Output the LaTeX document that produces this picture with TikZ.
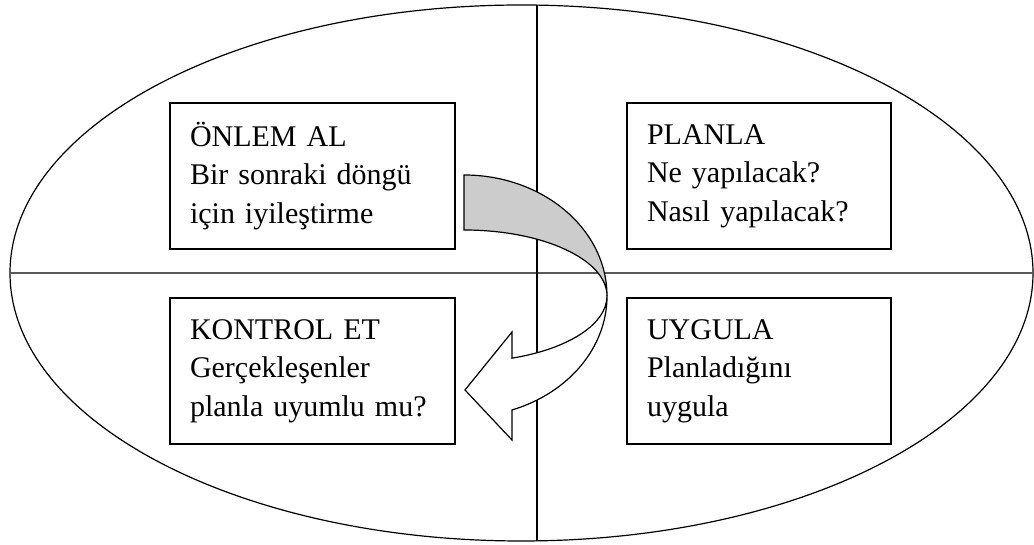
\documentclass[tikz,border=0pt]{standalone}
\usepackage{fontspec}
\setmainfont{Liberation Serif}

\begin{document}
\begin{tikzpicture}[x=1pt,y=1pt,
    kutu/.style={draw, line width=1.4pt, align=left, inner xsep=20pt, inner ysep=0pt,
      minimum height=146pt, font=\fontsize{30}{38.5}\selectfont},
    cizgi/.style={line width=1.2pt}]
            \useasboundingbox (0,0) rectangle (1034,545);

            % oval and the two axes
            \draw[cizgi] (521.5,272) ellipse [x radius=511.5, y radius=268];
            \coordinate (sol) at (10,272);
            \coordinate (sag) at (1033,272);
            \coordinate (ust) at (537,540);
            \coordinate (alt) at (537,4);
            \draw[line width=1.6pt, black!65] (sol) -- (sag);
            \draw[cizgi] (ust) -- (alt);

            % the four steps
            \node[kutu, text width=245pt] (onlem) at (312.5,369) {ÖNLEM AL\\Bir sonraki döngü\\için iyileştirme};
            \node[kutu, text width=224pt] (planla) at (759,369) {PLANLA\\Ne yapılacak?\\Nasıl yapılacak?};
            \node[kutu, text width=245pt] (kontrol) at (312.5,174) {KONTROL ET\\Gerçekleşenler\\planla uyumlu mu?};
            \node[kutu, text width=224pt] (uygula) at (759,174) {UYGULA\\Planladığını\\uygula};

            % curved arrow
            \draw[cizgi, fill=black!20] (464,370) arc[start angle=90, end angle=0, x radius=143, y radius=121]
                arc[start angle=0, end angle=90, x radius=143, y radius=66] -- cycle;
            \draw[cizgi, fill=white] (607,249) arc[start angle=0, end angle=-70.4, x radius=143, y radius=66]
                -- (512,213) -- (465,155) -- (512,105) -- (512,135)
                arc[start angle=-70.4, end angle=0, x radius=143, y radius=121] -- cycle;
        \end{tikzpicture}
\end{document}
